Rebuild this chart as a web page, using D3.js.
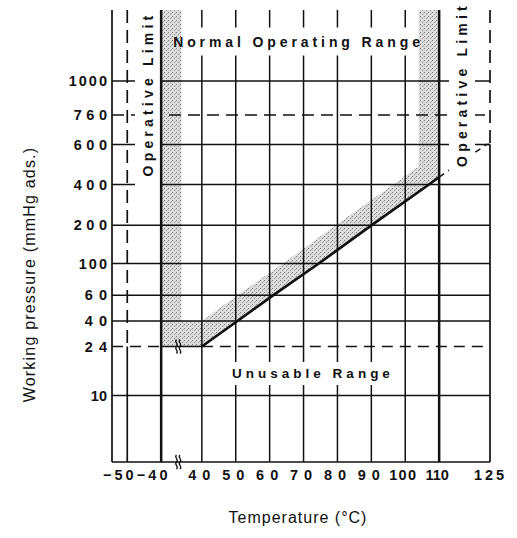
<!DOCTYPE html>
<html>
<head>
<meta charset="utf-8">
<script src="https://cdn.jsdelivr.net/npm/d3@7"></script>
<style>
  body { margin: 0; background: #fff; }
  svg { display: block; font-family: "Liberation Sans", Arial, Helvetica, sans-serif; }
  .grid { stroke: #111; stroke-width: 1.5; fill: none; }
  .frame { stroke: #111; stroke-width: 1.7; fill: none; }
  .limit { stroke: #111; stroke-width: 2.5; fill: none; }
  .note { font-weight: bold; fill: #111; }
  .title { font-size: 16px; fill: #111; letter-spacing: 1px; }
</style>
</head>
<body>
<svg id="chart" width="517" height="538"></svg>
<script>
// pressure axis (mmHg abs.) and temperature axis (deg C)
const pressureTicks = [10, 24, 40, 60, 100, 200, 400, 600, 760, 1000];
const pressureExtent = [4, 2000];
const tempTicks = [-50, -40, 40, 50, 60, 70, 80, 90, 100, 110, 125];
const tempExtent = [-54.5, 125];
const tempBreak = [-34, 34];

const operatingLimits = [-40, 110];     // thick lines of the normal range
const operativeLimits = [-50, 125];     // dashed outer limits
const operativeSolidBelow = [24, 600];  // pressure where each outer limit turns solid
const dashedRows = [760];
const vacuumFloor = 24;

// lower boundary of the operating range (solid diagonal)
const workingTemp = [40, 50.5, 61, 74.5, 90, 107, 110];
const workingPressure = [24, 40, 60, 100, 200, 400, 437];
// upper edge of the shaded margin along the diagonal
const marginTemp = [40, 50.5, 64, 79.5, 96.5, 104];
const marginPressure = [40, 60, 100, 200, 400, 490];
// dashed continuation up to the right operative limit
const extensionTemp = [110, 124, 125];
const extensionPressure = [437, 600, 600];

const W = 517, H = 538;
const plot = { left: 112, right: 490, top: 10, bottom: 462 };
const FONT = '"Liberation Sans", Arial, Helvetica, sans-serif';

const svg = d3.select("#chart");

// the pressure axis is not uniform: offset of each stop below the plot top
const pressureStops = [pressureExtent[0], ...pressureTicks, pressureExtent[1]];
const stopOffsets = [452, 385.5, 336.5, 311, 285.3, 253.5, 215.3, 174.5, 134.5, 105, 71, 0];
const y = d3.scaleLinear()
  .domain(pressureStops)
  .range(stopOffsets.map(d => plot.top + d));

// broken temperature axis, same scale on both sides of the break
const degrees = (tempBreak[0] - tempExtent[0]) + (tempExtent[1] - tempBreak[1]);
const xBreak = plot.left + (plot.right - plot.left) * (tempBreak[0] - tempExtent[0]) / degrees;
const x = d3.scaleLinear()
  .domain([tempExtent[0], tempBreak[0], tempBreak[1], tempExtent[1]])
  .range([plot.left, xBreak, xBreak, plot.right]);

const defs = svg.append("defs");
const pat = defs.append("pattern")
  .attr("id", "stipple")
  .attr("patternUnits", "userSpaceOnUse")
  .attr("width", 4)
  .attr("height", 4);
pat.append("rect").attr("width", 4).attr("height", 4).attr("fill", "#dcdcdc");
pat.append("rect").attr("width", 1).attr("height", 1).attr("fill", "#7a7a7a");
pat.append("rect").attr("x", 2).attr("y", 2).attr("width", 1).attr("height", 1).attr("fill", "#959595");
pat.append("rect").attr("x", 3).attr("y", 1).attr("width", 1).attr("height", 1).attr("fill", "#b4b4b4");

const mask = defs.append("mask")
  .attr("id", "label-gaps")
  .attr("maskUnits", "userSpaceOnUse")
  .attr("x", 0).attr("y", 0).attr("width", W).attr("height", H);
mask.append("rect").attr("width", W).attr("height", H).attr("fill", "white");

const shadeG = svg.append("g");
const cutG = svg.append("g").attr("mask", "url(#label-gaps)");
const frameG = svg.append("g");
const textG = svg.append("g");

const line = d3.line().x(d => x(d[0])).y(d => y(d[1]));
const pTop = pressureExtent[1];
const pBottom = pressureExtent[0];

// stippled safety margin inside the operating range
const shade = [
  [operatingLimits[0], pTop], [tempBreak[0], pTop], [tempBreak[0], marginPressure[0]],
  ...d3.zip(marginTemp, marginPressure),
  [marginTemp[marginTemp.length - 1], pTop], [operatingLimits[1], pTop],
  ...d3.zip(workingTemp, workingPressure).reverse(),
  [operatingLimits[0], vacuumFloor]
];
shadeG.append("path")
  .attr("d", line(shade) + "Z")
  .attr("fill", "url(#stipple)");

// horizontal grid rows
cutG.selectAll("line.row")
  .data(pressureTicks.filter(p => p !== vacuumFloor))
  .join("line")
  .attr("class", "grid row")
  .attr("x1", x(tempExtent[0]))
  .attr("x2", x(tempExtent[1]))
  .attr("y1", d => y(d))
  .attr("y2", d => y(d))
  .attr("stroke-dasharray", d => dashedRows.includes(d) ? "12,7" : null);

// 24 mmHg floor: dashed outside the box, solid under it
const floor = [
  [tempExtent[0], operatingLimits[0], true],
  [operatingLimits[0], workingTemp[0], false],
  [workingTemp[0], tempExtent[1], true]
];
cutG.selectAll("line.floor")
  .data(floor)
  .join("line")
  .attr("class", "grid floor")
  .attr("x1", d => x(d[0]))
  .attr("x2", d => x(d[1]))
  .attr("y1", y(vacuumFloor))
  .attr("y2", y(vacuumFloor))
  .attr("stroke-dasharray", d => d[2] ? "11,7" : null);

// vertical grid columns inside the operating range
cutG.selectAll("line.col")
  .data(tempTicks.filter(t => t > operatingLimits[0] && t < operatingLimits[1]))
  .join("line")
  .attr("class", "grid col")
  .attr("x1", d => x(d))
  .attr("x2", d => x(d))
  .attr("y1", y(pTop))
  .attr("y2", y(pBottom));

cutG.append("path")
  .attr("class", "grid")
  .attr("d", line(d3.zip(extensionTemp, extensionPressure)))
  .attr("stroke-dasharray", "6,5");

// frame: border, axis line, limits
frameG.append("line")
  .attr("class", "frame")
  .attr("x1", x(tempExtent[0])).attr("x2", x(tempExtent[0]))
  .attr("y1", y(pTop)).attr("y2", y(pBottom));
frameG.append("line")
  .attr("class", "frame")
  .attr("x1", x(tempExtent[0])).attr("x2", x(tempExtent[1]))
  .attr("y1", y(pBottom)).attr("y2", y(pBottom));

frameG.selectAll("line.limit")
  .data(operatingLimits)
  .join("line")
  .attr("class", "limit")
  .attr("x1", d => x(d)).attr("x2", d => x(d))
  .attr("y1", y(pTop)).attr("y2", y(pBottom));

operativeLimits.forEach((t, i) => {
  const p = operativeSolidBelow[i];
  frameG.append("line")
    .attr("class", "frame")
    .attr("x1", x(t)).attr("x2", x(t))
    .attr("y1", y(pTop)).attr("y2", y(p))
    .attr("stroke-dasharray", "13,7");
  frameG.append("line")
    .attr("class", "frame")
    .attr("x1", x(t)).attr("x2", x(t))
    .attr("y1", y(p)).attr("y2", y(pBottom));
});

frameG.append("path")
  .attr("d", line(d3.zip(workingTemp, workingPressure)))
  .attr("fill", "none")
  .attr("stroke", "#111")
  .attr("stroke-width", 2.7);

// axis break marks
const squiggle = (cx, cy) =>
  `M${cx},${cy - 7} c-3,2.5 3,4.5 0,7 c-3,2.5 3,4.5 0,7`;
[y(vacuumFloor), y(pBottom)].forEach(cy => {
  [xBreak - 5, xBreak - 1.5].forEach(cx => {
    frameG.append("path")
      .attr("d", squiggle(cx, cy))
      .attr("fill", "none")
      .attr("stroke", "#111")
      .attr("stroke-width", 1.3);
  });
});

// axes (labels only)
const ySpacing = s => s.length === 2 ? (s === "10" ? 0 : 6) : (s.includes("1") ? 2 : 4.5);
const gy = textG.append("g")
  .attr("transform", `translate(${plot.left},0)`)
  .call(d3.axisLeft(y).tickValues(pressureTicks).tickSize(0).tickPadding(5)
    .tickFormat(d3.format("d")))
  .attr("font-family", FONT)
  .attr("font-size", 14.5);
gy.select(".domain").remove();
gy.selectAll("text")
  .attr("font-weight", "bold")
  .attr("fill", "#111")
  .style("letter-spacing", function () { return ySpacing(this.textContent) + "px"; })
  .attr("dx", function () { return ySpacing(this.textContent); });

const xSpacing = s => s.startsWith("−") ? 3 : s.length === 2 ? 6 : s === "125" ? 3 : s === "100" ? 1.3 : 0;
const gx = textG.append("g")
  .attr("transform", `translate(0,${plot.bottom})`)
  .call(d3.axisBottom(x).tickValues(tempTicks).tickSize(0).tickPadding(8)
    .tickFormat(d3.format("d")))
  .attr("font-family", FONT)
  .attr("font-size", 14.5);
gx.select(".domain").remove();
gx.selectAll("text")
  .attr("font-weight", "bold")
  .attr("fill", "#111")
  .style("letter-spacing", function () { return xSpacing(this.textContent) + "px"; })
  .attr("dx", function () {
    const s = this.textContent;
    return s.startsWith("−") ? -8 : s.length === 3 && s !== "125" ? -2.5 : 0;
  });

textG.append("text")
  .attr("class", "title")
  .attr("x", 298)
  .attr("y", 523)
  .attr("text-anchor", "middle")
  .text("Temperature (°C)");

textG.append("text")
  .attr("class", "title")
  .attr("transform", "translate(35,274.5) rotate(-90)")
  .attr("text-anchor", "middle")
  .style("letter-spacing", "1.2px")
  .text("Working pressure (mmHg ads.)");

// region labels; grid lines are cut where they sit
const notes = [
  { text: "Normal Operating Range", x: 298.5, y: 46.5, rotate: false, size: 14, spacing: 3.9, pad: [4, 6] },
  { text: "Unusable Range", x: 313, y: 378, rotate: false, size: 13.5, spacing: 4, pad: [4, 4] },
  { text: "Operative Limit", x: 153, y: 94, rotate: true, size: 14, spacing: 4.2, pad: [5, 12] },
  { text: "Operative Limit", x: 467, y: 84.5, rotate: true, size: 14, spacing: 4.2, pad: [5, 12] }
];

notes.forEach(n => {
  const t = textG.append("text")
    .attr("class", "note")
    .attr("text-anchor", "middle")
    .attr("font-size", n.size)
    .style("letter-spacing", n.spacing + "px")
    .attr("transform", n.rotate ? `translate(${n.x},${n.y}) rotate(-90)` : `translate(${n.x},${n.y})`)
    .text(n.text);
  const b = t.node().getBBox();
  let box;
  if (n.rotate) {
    box = {
      x0: n.x + b.y - n.pad[0], x1: n.x + b.y + b.height + n.pad[0],
      y0: n.y - b.x - b.width - n.pad[1], y1: n.y - b.x + n.pad[1]
    };
  } else {
    box = {
      x0: n.x + b.x - n.pad[0], x1: n.x + b.x + b.width + n.pad[0],
      y0: n.y + b.y - n.pad[1], y1: n.y + b.y + b.height + n.pad[1]
    };
  }
  mask.append("rect")
    .attr("x", box.x0)
    .attr("y", box.y0)
    .attr("width", box.x1 - box.x0)
    .attr("height", box.y1 - box.y0)
    .attr("fill", "black");
});
</script>
</body>
</html>
